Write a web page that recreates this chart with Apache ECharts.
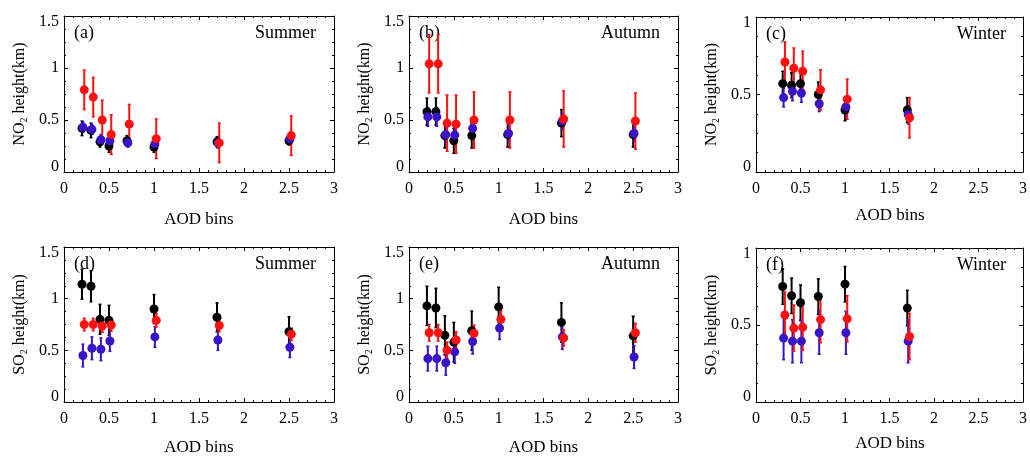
<!DOCTYPE html>
<html>
<head>
<meta charset="utf-8">
<script src="https://cdn.jsdelivr.net/npm/echarts@6/dist/echarts.min.js"></script>
<style>
html,body{margin:0;padding:0;background:#fff;}
#chart{width:1030px;height:457px;}
</style>
</head>
<body>
<div id="chart"></div>
<script>
// ---- Data: [height (km), error] per AOD bin ----
const xTicks = [0, 0.5, 1, 1.5, 2, 2.5, 3];

// (a) NO2 Summer
const binsA = [0.2, 0.3, 0.4, 0.5, 0.7, 1.0, 1.7, 2.5];
const a_black = [[0.42,0.07],[0.40,0.07],[0.29,0.05],[0.25,0.06],[0.30,0.05],[0.24,0.05],[0.29,0.05],[0.30,0.04]];
const a_blue  = [[0.43,0.05],[0.41,0.05],[0.31,0.05],[0.30,0.05],[0.28,0.04],[0.27,0.04],[0.28,0.05],[0.32,0.05]];
const a_red   = [[0.79,0.19],[0.72,0.19],[0.50,0.19],[0.36,0.19],[0.46,0.19],[0.32,0.19],[0.28,0.19],[0.35,0.19]];

// (b) NO2 Autumn
const binsB = [0.2, 0.3, 0.4, 0.5, 0.7, 1.1, 1.7, 2.5];
const b_black = [[0.58,0.13],[0.58,0.13],[0.35,0.12],[0.30,0.12],[0.35,0.12],[0.36,0.12],[0.47,0.13],[0.36,0.12]];
const b_blue  = [[0.53,0.09],[0.53,0.09],[0.36,0.08],[0.355,0.08],[0.42,0.08],[0.37,0.08],[0.49,0.08],[0.37,0.08]];
const b_red   = [[1.04,0.28],[1.04,0.28],[0.47,0.27],[0.46,0.28],[0.50,0.27],[0.50,0.27],[0.51,0.27],[0.49,0.27]];

// (c) NO2 Winter
const binsC = [0.3, 0.4, 0.5, 0.7, 1.0, 1.7];
const c_black = [[0.57,0.08],[0.56,0.08],[0.57,0.08],[0.50,0.08],[0.40,0.07],[0.40,0.08]];
const c_blue  = [[0.48,0.06],[0.52,0.06],[0.51,0.06],[0.44,0.05],[0.42,0.06],[0.37,0.06]];
const c_red   = [[0.71,0.13],[0.67,0.13],[0.65,0.13],[0.53,0.13],[0.47,0.13],[0.35,0.13]];

// (d) SO2 Summer
const binsD = [0.2, 0.3, 0.4, 0.5, 1.0, 1.7, 2.5];
const d_black = [[1.14,0.145],[1.12,0.15],[0.80,0.145],[0.79,0.145],[0.90,0.14],[0.82,0.14],[0.68,0.145]];
const d_blue  = [[0.45,0.11],[0.52,0.11],[0.51,0.11],[0.59,0.10],[0.63,0.10],[0.60,0.10],[0.53,0.10]];
const d_red   = [[0.75,0.06],[0.75,0.06],[0.735,0.06],[0.745,0.06],[0.79,0.065],[0.74,0.06],[0.655,0.06]];

// (e) SO2 Autumn
const binsE = [0.2, 0.3, 0.4, 0.5, 0.7, 1.0, 1.7, 2.5];
const e_black = [[0.93,0.19],[0.91,0.19],[0.645,0.19],[0.58,0.19],[0.69,0.19],[0.92,0.19],[0.77,0.19],[0.64,0.19]];
const e_blue  = [[0.42,0.12],[0.42,0.12],[0.38,0.12],[0.485,0.11],[0.585,0.12],[0.715,0.11],[0.63,0.12],[0.435,0.11]];
const e_red   = [[0.67,0.08],[0.67,0.08],[0.50,0.08],[0.60,0.08],[0.665,0.08],[0.80,0.08],[0.62,0.08],[0.67,0.09]];

// (f) SO2 Winter
const binsF = [0.3, 0.4, 0.5, 0.7, 1.0, 1.7];
const f_black = [[0.75,0.115],[0.69,0.115],[0.645,0.115],[0.685,0.115],[0.765,0.115],[0.61,0.115]];
const f_blue  = [[0.415,0.14],[0.395,0.14],[0.395,0.14],[0.45,0.14],[0.45,0.14],[0.395,0.14]];
const f_red   = [[0.565,0.15],[0.48,0.15],[0.485,0.15],[0.535,0.15],[0.54,0.15],[0.425,0.15]];

const panelLabels = ['(a)','(b)','(c)','(d)','(e)','(f)'];
const seasons = ['Summer','Autumn','Winter','Summer','Autumn','Winter'];
const gases = ['NO','NO','NO','SO','SO','SO'];

// ---- Layout / style ----
const FONT = '"Liberation Serif","Times New Roman",serif';
const COL = {black:'#000000', blue:'#3a12c8', red:'#ff1010'};
const XOFF = {black:0, blue:0.01, red:0.025};

const panels = [
  {bins:binsA, s:{black:a_black, blue:a_blue, red:a_red}, ymax:1.5, g:{left:64, top:16, width:270, height:156}, xt:220},
  {bins:binsB, s:{black:b_black, blue:b_blue, red:b_red}, ymax:1.5, g:{left:409, top:16, width:269, height:156}, xt:220},
  {bins:binsC, s:{black:c_black, blue:c_blue, red:c_red}, ymax:1.0, g:{left:756, top:17, width:268, height:155}, xt:216},
  {bins:binsD, s:{black:d_black, blue:d_blue, red:d_red}, ymax:1.5, g:{left:64, top:247, width:270, height:155}, xt:448},
  {bins:binsE, s:{black:e_black, blue:e_blue, red:e_red}, ymax:1.5, g:{left:409, top:247, width:269, height:155}, xt:448},
  {bins:binsF, s:{black:f_black, blue:f_blue, red:f_red}, ymax:1.0, g:{left:756, top:248, width:268, height:154}, xt:444}
];

const grids=[], xAxes=[], yAxes=[], series=[], graphics=[];
const lineStyle = {color:'#000', width:1};
const labelStyle = {color:'#000', fontFamily:FONT, fontSize:16};

panels.forEach((p, i) => {
  grids.push(Object.assign({containLabel:false}, p.g));
  const xi = xAxes.length, yi = yAxes.length;
  const xBase = {type:'value', gridIndex:i, min:xTicks[0], max:xTicks[xTicks.length-1], interval:0.5,
    splitLine:{show:false}, axisLine:{show:true, onZero:false, lineStyle},
    axisTick:{show:true, inside:true, length:4, lineStyle},
    minorTick:{show:true, splitNumber:5, length:2, lineStyle}};
  xAxes.push(Object.assign({}, xBase, {position:'bottom',
    axisLabel:Object.assign({margin:9, formatter:v=>String(v)}, labelStyle)}));
  xAxes.push(Object.assign({}, xBase, {position:'top', axisLabel:{show:false}}));
  const yBase = {type:'value', gridIndex:i, min:0, max:p.ymax, interval:0.5,
    splitLine:{show:false}, axisLine:{show:true, onZero:false, lineStyle},
    axisTick:{show:true, inside:true, length:4, lineStyle},
    minorTick:{show:true, splitNumber:4, length:2, lineStyle}};
  const ymax = p.ymax;
  yAxes.push(Object.assign({}, yBase, {position:'left',
    axisLabel:Object.assign({margin:5,
      formatter:v => v === 0 ? '{lo|0}' : (Math.abs(v - ymax) < 1e-9 ? '{hi|' + v + '}' : String(v)),
      rich:{
        lo:{fontFamily:FONT, fontSize:16, color:'#000', padding:[0,0,10,0]},
        hi:{fontFamily:FONT, fontSize:16, color:'#000', padding:[12,0,0,0]}
      }}, labelStyle)}));
  yAxes.push(Object.assign({}, yBase, {position:'right', axisLabel:{show:false}}));

  ['black','blue','red'].forEach(k => {
    const color = COL[k];
    const data = p.bins.map((b, j) => [b + XOFF[k], p.s[k][j][0], p.s[k][j][1]]);
    series.push({
      type:'custom', xAxisIndex:xi, yAxisIndex:yi, data, silent:true, clip:false,
      encode:{x:0, y:1},
      renderItem:(params, api) => {
        const x=api.value(0), y=api.value(1), e=api.value(2);
        const t=api.coord([x, y+e]), bt=api.coord([x, y-e]);
        const cw=1.5;
        return {type:'group', children:[
          {type:'line', shape:{x1:t[0],y1:t[1],x2:bt[0],y2:bt[1]}, style:{stroke:color, lineWidth:2}},
          {type:'line', shape:{x1:t[0]-cw,y1:t[1],x2:t[0]+cw,y2:t[1]}, style:{stroke:color, lineWidth:1.5}},
          {type:'line', shape:{x1:bt[0]-cw,y1:bt[1],x2:bt[0]+cw,y2:bt[1]}, style:{stroke:color, lineWidth:1.5}}
        ]};
      }
    });
    series.push({
      type:'scatter', xAxisIndex:xi, yAxisIndex:yi, silent:true,
      data:data.map(d=>[d[0], d[1]]), symbol:'circle', symbolSize:9,
      itemStyle:{color, opacity:1}
    });
  });

  const g = p.g;
  graphics.push({type:'text', left:g.left+10, top:g.top+8,
    style:{text:panelLabels[i], font:'18px '+FONT, fill:'#000'}});
  graphics.push({type:'text', right:1030-(g.left+g.width)+18, top:g.top+8,
    style:{text:seasons[i], font:'18px '+FONT, fill:'#000'}});
  graphics.push({type:'text', x:g.left+g.width/2, y:p.xt,
    style:{text:'AOD bins', font:'17px '+FONT, fill:'#000', textAlign:'center', textVerticalAlign:'middle'}});
  graphics.push({type:'text', x:g.left-44, y:g.top+g.height/2, rotation:Math.PI/2,
    style:{text:'{b|'+gases[i]+'}{s|2}{b| height(km)}', textAlign:'center', textVerticalAlign:'middle',
      rich:{
        b:{fontFamily:FONT, fontSize:16, fill:'#000', lineHeight:18, verticalAlign:'middle'},
        s:{fontFamily:FONT, fontSize:10, fill:'#000', lineHeight:18, verticalAlign:'bottom', padding:[6,0,0,0]}
      }}});
});

const chart = echarts.init(document.getElementById('chart'), null, {renderer:'canvas'});
chart.setOption({
  animation:false,
  backgroundColor:'#fff',
  grid:grids, xAxis:xAxes, yAxis:yAxes, series, graphic:graphics
});
</script>
</body>
</html>
